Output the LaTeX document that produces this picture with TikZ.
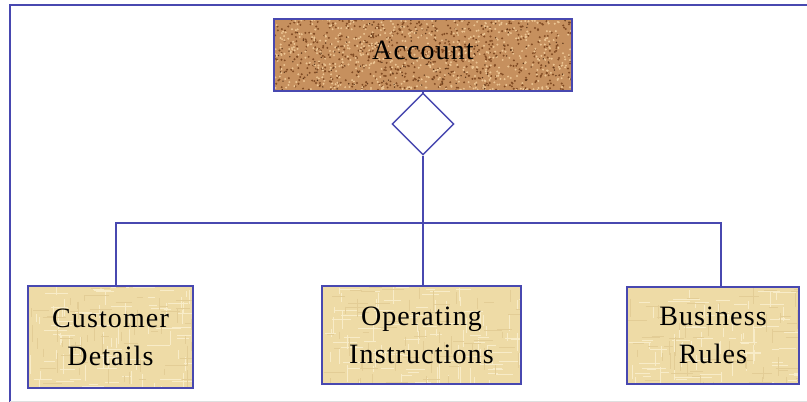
\documentclass[tikz,border=0pt]{standalone}
\usepackage{fontspec}
\newfontfamily\lblfont{Liberation Serif}[LetterSpace=4]
\usetikzlibrary{shapes.geometric,backgrounds}
\definecolor{umlblue}{RGB}{72,72,176}
\definecolor{corkbase}{RGB}{198,144,94}
\definecolor{corkdark}{RGB}{130,76,36}
\definecolor{corklight}{RGB}{236,196,146}
\definecolor{papbase}{RGB}{238,219,166}
\definecolor{paplight}{RGB}{248,236,200}
\definecolor{papdark}{RGB}{220,196,140}
\newcommand\myspeckle[5]{%
  \foreach \i in {1,...,#4}{\fill[#3] ({rnd*#1},{rnd*#2}) circle (#5);}}
\newcommand\myfibres[4]{%
  \foreach \i in {1,...,#4}{%
    \draw[#3,line width=0.7pt] ({rnd*#1},{rnd*#2}) -- ++({6+rnd*18},0);
    \draw[#3,line width=0.7pt] ({rnd*#1},{rnd*#2}) -- ++(0,{6+rnd*14});}}
\tikzset{
  x=1pt, y=-1pt,
  link/.style={draw=umlblue, line width=1.4pt},
  corkbox/.style={draw=umlblue, line width=1.4pt, inner sep=0pt,
    font=\lblfont\fontsize{28}{38}\selectfont},
  papbox/.style={draw=umlblue, line width=1.4pt, inner sep=0pt,
    align=center, font=\lblfont\fontsize{28}{38}\selectfont},
  aggr/.style={diamond, draw=umlblue, line width=1.4pt, fill=white, aspect=1,
    minimum size=62pt, inner sep=0pt}
}
\begin{document}
\begin{tikzpicture}
\pgfmathsetmacro{\dummy}{0}
\pgfmathsetseed{7}
\useasboundingbox (0,0) rectangle (807,402);
% frame
\draw[umlblue, line width=2pt] (807,5) -- (10,5) -- (10,402);
\draw[gray!25, line width=1pt] (10,401) -- (807,401);
% nodes
\node[corkbox, minimum width=298pt, minimum height=72pt, text depth=9pt] (acc) at (423,55) {Account};
\node[aggr] (dia) at (423,124) {};
\node[papbox, minimum width=165pt, minimum height=102pt] (cust) at (110.5,337) {Customer\\Details};
\node[papbox, minimum width=199pt, minimum height=98pt] (oper) at (421.5,335) {Operating\\Instructions};
\node[papbox, minimum width=172pt, minimum height=97pt] (bus) at (713,335.5) {Business\\Rules};
% textures behind the boxes
\begin{pgfonlayer}{background}
  \begin{scope}
    \clip (acc.north west) rectangle (acc.south east);
    \fill[corkbase] (acc.north west) rectangle (acc.south east);
    \begin{scope}[shift={(acc.north west)}]
      \myspeckle{300}{75}{corkdark}{650}{1.1pt}
      \myspeckle{300}{75}{corklight}{650}{1.1pt}
      \myspeckle{300}{75}{corkdark!70!black}{150}{0.8pt}
    \end{scope}
  \end{scope}
  \foreach \b in {cust,oper,bus}{
    \begin{scope}
      \clip (\b.north west) rectangle (\b.south east);
      \fill[papbase] (\b.north west) rectangle (\b.south east);
      \begin{scope}[shift={(\b.north west)}]
        \myfibres{200}{105}{paplight}{60}
        \myfibres{200}{105}{papdark!60!papbase}{40}
      \end{scope}
    \end{scope}
  }
\end{pgfonlayer}
% junction points
\coordinate (jL) at (116,223);
\coordinate (jM) at (423,223);
\coordinate (jR) at (721,223);
% connectors
\draw[link] (acc.south) -- (dia.north);
\draw[link] (dia.south) -- (jM) -- (jM |- oper.north);
\draw[link] (jL |- cust.north) -- (jL) -- (jR) -- (jR |- bus.north);
\end{tikzpicture}
\end{document}
